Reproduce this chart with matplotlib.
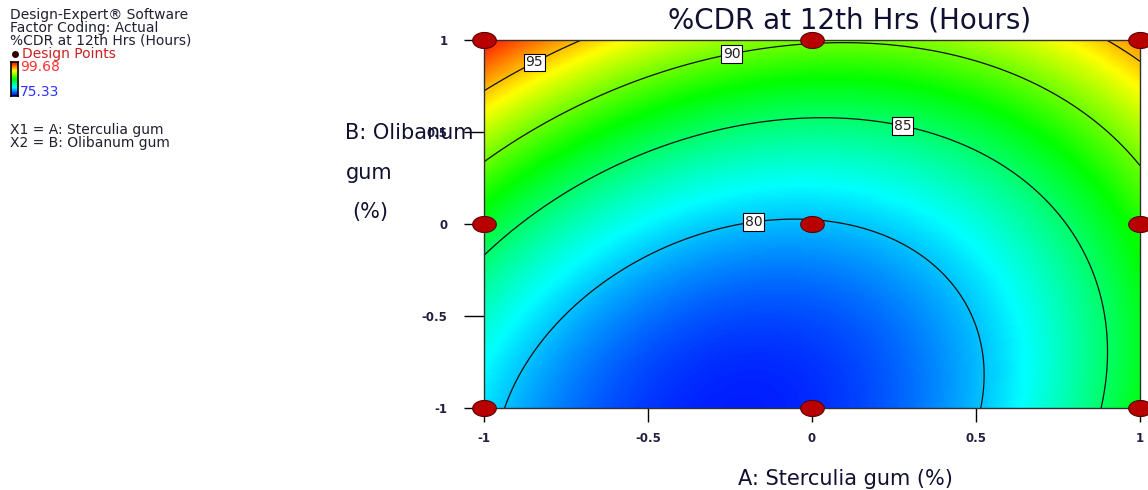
import numpy as np
import matplotlib
matplotlib.use("Agg")
import matplotlib.pyplot as plt
from matplotlib.colors import LinearSegmentedColormap
from matplotlib.path import Path

# ---- data (coded factor levels, 3x3 design) ----
design_a = [-1, 0, 1, -1, 0, 1, -1, 0, 1]          # A: Sterculia gum
design_b = [-1, -1, -1, 0, 0, 0, 1, 1, 1]          # B: Olibanum gum
response = [80.71, 76.39, 87.05, 86.48, 79.83, 88.18, 99.22, 90.27, 96.30]  # %CDR at 12 h
contour_levels = [80, 85, 90, 95]
tick_values = [-1, -0.5, 0, 0.5, 1]
tick_labels = ["-1", "-0.5", "0", "0.5", "1"]
legend_high = 99.68
legend_low = 75.33

# ---- quadratic response-surface fit ----
a = np.array(design_a, float)
b = np.array(design_b, float)
y = np.array(response, float)
M = np.column_stack([np.ones_like(a), a, b, a * b, a ** 2, b ** 2])
coef, *_ = np.linalg.lstsq(M, y, rcond=None)

g = np.linspace(-1, 1, 241)
GA, GB = np.meshgrid(g, g)
Z = (coef[0] + coef[1] * GA + coef[2] * GB + coef[3] * GA * GB
     + coef[4] * GA ** 2 + coef[5] * GB ** 2)

cmap = LinearSegmentedColormap.from_list(
    "de", ['#0000FF', '#00FFFF', '#00FF00', '#FFFF00', '#FF0000'])

W, H = 1148, 490
fig = plt.figure(figsize=(W / 100, H / 100), dpi=100)
ax = fig.add_axes([484 / W, 1 - 408 / H, 656 / W, 368 / H])

ax.imshow(Z, origin='lower', extent=(-1, 1, -1, 1), cmap=cmap, aspect='auto',
          vmin=legend_low, vmax=legend_high, interpolation='bilinear')
cs = ax.contour(GA, GB, Z, levels=contour_levels, colors='#101010', linewidths=0.9)
label_pos = [(-0.18, 0.05), (0.28, 0.56), (-0.25, 0.97), (-0.85, 0.89)]
lbls = ax.clabel(cs, manual=label_pos, inline=False, fontsize=10, fmt='%d', colors='#202020')
for t in lbls:
    t.set_rotation(0)
    t.set_bbox(dict(facecolor='white', edgecolor='black', linewidth=0.8, pad=1.2))

# design points (ellipse markers)
th = np.linspace(0, 2 * np.pi, 41)
ell = Path(np.column_stack([np.cos(th), 0.68 * np.sin(th)]), closed=True)
ax.plot(a, b, linestyle='none', marker=ell, markersize=17,
        markerfacecolor='#B80000', markeredgecolor='#5A0000', markeredgewidth=0.8,
        clip_on=False, zorder=5)

ax.set_xlim(-1, 1)
ax.set_ylim(-1, 1)
ax.set_xticks(tick_values)
ax.set_xticklabels(tick_labels, fontweight='bold')
ax.set_yticks(tick_values)
ax.set_yticklabels(tick_labels, fontweight='bold')
tick_col = '#202040'
ax.tick_params(axis='y', direction='out', length=14.4, width=1, pad=12,
               labelsize=8.5, labelcolor=tick_col)
ax.tick_params(axis='x', direction='out', length=10, width=1, pad=7,
               labelsize=8.5, labelcolor=tick_col)
for s in ax.spines.values():
    s.set_linewidth(1.0)
    s.set_color('#303030')

# titles and axis labels
fig.text(850 / W, 1 - 20 / H, "%CDR at 12th Hrs (Hours)", ha='center', va='center',
         fontsize=20, color='#101030')
fig.text(845 / W, 1 - 479 / H, "A: Sterculia gum (%)", ha='center', va='center',
         fontsize=15, color='#101030')
fig.text(345 / W, 1 - 133 / H, "B: Olibanum", ha='left', va='center', fontsize=15, color='#101030')
fig.text(346 / W, 1 - 173 / H, "gum", ha='left', va='center', fontsize=15, color='#101030')
fig.text(352 / W, 1 - 212 / H, "(%)", ha='left', va='center', fontsize=15, color='#101030')

# Design-Expert side legend
leg_col = '#202030'
fs_leg = 10
fig.text(10 / W, 1 - 15 / H, "Design-Expert\u00ae Software", ha='left', va='center',
         fontsize=fs_leg, color=leg_col)
fig.text(10 / W, 1 - 28 / H, "Factor Coding: Actual", ha='left', va='center',
         fontsize=fs_leg, color=leg_col)
fig.text(10 / W, 1 - 41 / H, "%CDR at 12th Hrs (Hours)", ha='left', va='center',
         fontsize=fs_leg, color=leg_col)
fig.text(22 / W, 1 - 54 / H, "Design Points", ha='left', va='center',
         fontsize=fs_leg, color='#CC2222')
fig.text(20 / W, 1 - 67 / H, f"{legend_high:.2f}", ha='left', va='center',
         fontsize=fs_leg, color='#FF3030')
fig.text(20 / W, 1 - 92 / H, f"{legend_low:.2f}", ha='left', va='center',
         fontsize=fs_leg, color='#3030FF')
fig.text(10 / W, 1 - 130 / H, "X1 = A: Sterculia gum", ha='left', va='center',
         fontsize=fs_leg, color=leg_col)
fig.text(10 / W, 1 - 143 / H, "X2 = B: Olibanum gum", ha='left', va='center',
         fontsize=fs_leg, color=leg_col)
fig.lines.append(plt.Line2D([15 / W], [1 - 54 / H], transform=fig.transFigure,
                            marker='o', markersize=4, color='#300000', linestyle='none'))
cax = fig.add_axes([11 / W, 1 - 96 / H, 7 / W, 34 / H])
cax.imshow(np.linspace(legend_low, legend_high, 64)[:, None], origin='lower', aspect='auto',
           cmap=cmap, vmin=legend_low, vmax=legend_high)
cax.set_xticks([])
cax.set_yticks([])
for s in cax.spines.values():
    s.set_linewidth(1.2)
    s.set_color('black')

fig.savefig("out.png", dpi=100)
